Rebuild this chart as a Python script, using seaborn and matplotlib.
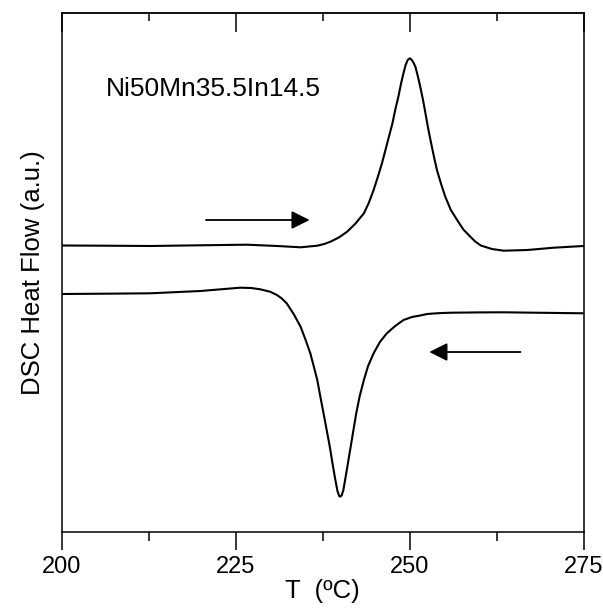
import matplotlib
matplotlib.use('Agg')
import matplotlib.pyplot as plt
import seaborn as sns
import pandas as pd

# Dados (T em ºC, sinal em unidades arbitrarias)
t_heat = [200, 206, 212.7, 219.9, 226.6, 230.9, 234.3, 236.7, 237.7, 238.6, 239.8,
          241.0, 242.2, 243.4, 244.1, 244.8, 245.4, 246.0, 246.5, 247.0, 247.5,
          247.9, 248.35, 248.75, 249.1, 249.4, 249.7, 250.0, 250.3, 250.55, 250.8,
          251.15, 251.5, 251.9, 252.25, 252.6, 252.97, 253.45, 253.9, 254.5, 255.1,
          255.9, 256.8, 257.7, 258.7, 259.4, 260.2, 261.8, 263.5, 266.9, 270.7, 275]
flow_heat = [286.5, 286.3, 286, 286.7, 287.3, 286, 284.7, 286.3, 288, 290.3, 294.5,
             300.3, 308.5, 318.7, 329, 342, 355, 368.7, 382, 395.3, 408.5,
             422, 435, 448.7, 459, 467, 472, 473.7, 472, 469, 465.3,
             456, 445.3, 432, 418.7, 405, 392, 376, 362, 348, 335.3,
             322, 312, 302.5, 295.3, 290.5, 286.5, 283, 281.3, 282, 284.3, 286]

t_cool = [200, 206, 212.7, 219.9, 225.6, 227.2, 228.5, 229.9, 230.9, 231.6, 232.3,
          233.3, 234.3, 235.0, 235.7, 236.2, 236.7, 237.15, 237.6, 238.05, 238.5,
          238.9, 239.3, 239.6, 239.85, 240.0, 240.2, 240.45, 240.7, 241.1, 241.5,
          241.9, 242.3, 242.8, 243.4, 244.0, 244.8, 245.7, 246.7, 247.9, 249.1,
          250.3, 251.5, 252.5, 254, 255.9, 260, 263.5, 268, 275]
flow_cool = [238, 238.3, 238.7, 241, 244.3, 244, 242.7, 240.3, 237, 233.5, 228.7,
             218, 205.3, 192.5, 178.7, 165.5, 152, 135, 118.7, 102, 85.3,
             68, 52, 41, 36, 35.3, 36.5, 42, 52, 68.5, 85.3,
             102, 118.7, 136, 152, 166, 178.7, 190, 198.7, 206, 212,
             215, 216.5, 218, 218.8, 219.3, 219.6, 219.7, 219.3, 218.7]

df_heat = pd.DataFrame({'T': t_heat, 'flow': flow_heat})
df_cool = pd.DataFrame({'T': t_cool, 'flow': flow_cool})

sns.set_style('ticks')
plt.rcParams['font.family'] = ['Liberation Sans', 'DejaVu Sans']
plt.rcParams['text.color'] = 'black'
plt.rcParams['axes.labelcolor'] = 'black'
plt.rcParams['xtick.color'] = 'black'

fig = plt.figure(figsize=(6.03, 6.09), dpi=100)
ax = fig.add_axes([0.1028, 0.1264, 0.8652, 0.8523])

sns.lineplot(data=df_heat, x='T', y='flow', color='black', linewidth=1.5, sort=False,
             solid_joinstyle='round', ax=ax)
sns.lineplot(data=df_cool, x='T', y='flow', color='black', linewidth=1.5, sort=False,
             solid_joinstyle='round', ax=ax)

ax.set_xlim(200, 275)
ax.set_ylim(0, 519)
ax.set_xticks([200, 225, 250, 275])
ax.set_xticks([212.5, 237.5, 262.5], minor=True)
ax.set_yticks([])
ax.tick_params(axis='x', which='major', direction='out', length=13, width=1.1,
               labelsize=17, pad=4, color='black', labelcolor='black')
ax.tick_params(axis='x', which='minor', direction='out', length=6.5, width=1.1)

top = ax.secondary_xaxis('top')
top.set_xticks([200, 225, 250, 275])
top.set_xticks([212.5, 237.5, 262.5], minor=True)
top.tick_params(which='major', direction='in', length=14, width=1.1, labeltop=False)
top.tick_params(which='minor', direction='in', length=6, width=1.1)
top.spines['top'].set_linewidth(1.1)

for s in ax.spines.values():
    s.set_linewidth(1.1)
    s.set_color('black')

ax.set_xlabel('T  (ºC)', fontsize=18.5, labelpad=1)
ax.set_ylabel('DSC Heat Flow (a.u.)', fontsize=18.5, labelpad=12)

ax.text(206.3, 443, 'Ni50Mn35.5In14.5', fontsize=19, ha='left', va='center')

ax.annotate('', xy=(235.6, 312), xytext=(220.7, 312),
            arrowprops=dict(arrowstyle='-|>,head_length=1.1,head_width=0.55',
                            color='black', lw=1.3, shrinkA=0, shrinkB=0))
ax.annotate('', xy=(252.8, 180), xytext=(265.9, 180),
            arrowprops=dict(arrowstyle='-|>,head_length=1.1,head_width=0.55',
                            color='black', lw=1.3, shrinkA=0, shrinkB=0))

plt.savefig('out.png', dpi=100)
plt.close()
